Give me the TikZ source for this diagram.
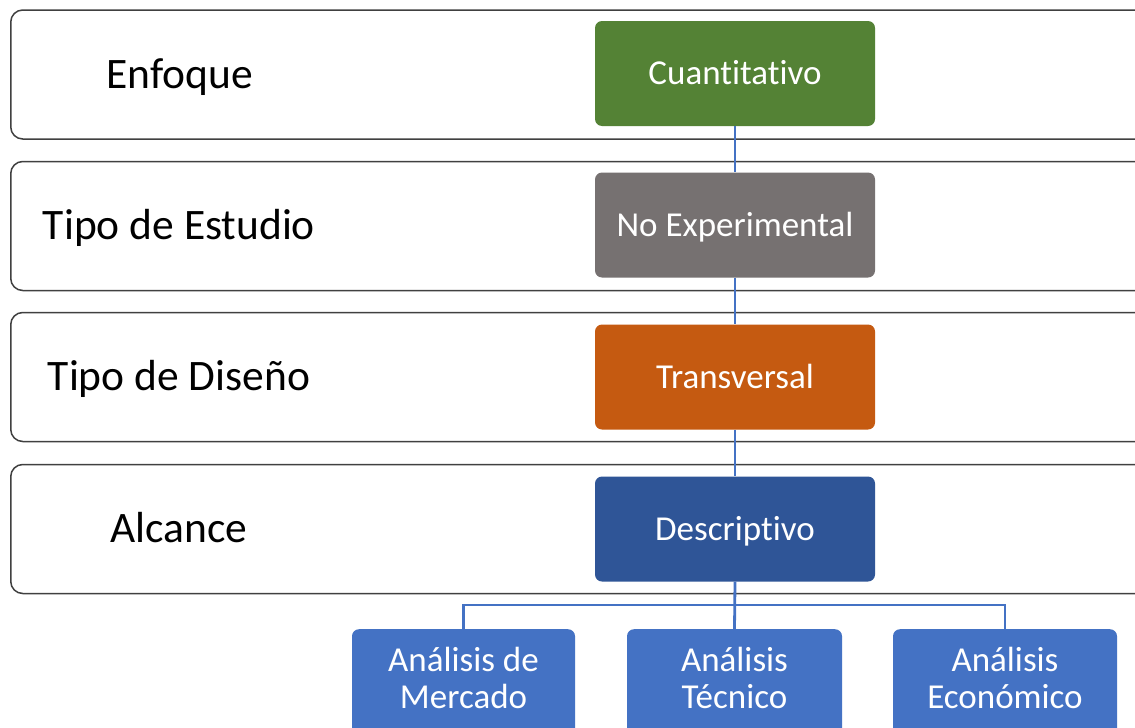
\documentclass[tikz,border=0pt]{standalone}
\usepackage{fontspec}
\setmainfont{Carlito}[Ligatures=NoCommon]
\definecolor{cgreen}{HTML}{548235}
\definecolor{cgray}{HTML}{767171}
\definecolor{corange}{HTML}{C55A11}
\definecolor{cdblue}{HTML}{2F5597}
\definecolor{cblue}{HTML}{4472C4}
\definecolor{cborder}{HTML}{404040}
\begin{document}
\begin{tikzpicture}[x=1pt,y=-1pt,
  rowbox/.style={draw=cborder,line width=1.5pt,rounded corners=12pt,fill=white,
    minimum width=1150pt,minimum height=129pt,anchor=west,inner sep=0pt},
  rowlabel/.style={font=\fontsize{43.5}{50}\selectfont,text=black,inner sep=0pt,
    text height=28pt,text depth=0pt},
  cbox/.style={rounded corners=7pt,minimum width=280pt,minimum height=105pt,
    text=white,font=\fontsize{35}{40}\selectfont,inner sep=0pt,
    text height=22.5pt,text depth=0pt},
  subbox/.style={fill=cblue,rounded corners=7pt,anchor=north,minimum height=140pt,inner sep=0pt},
  subtext/.style={text=white,font=\fontsize{35}{37}\selectfont,align=center,inner sep=0pt},
  conn/.style={draw=cblue,line width=2.8pt}]
\useasboundingbox (0,0) rectangle (1135,728);
\fill[white] (0,0) rectangle (1135,728);
\begin{scope}
\clip (0,0) rectangle (1135,728);
% rows
\node[rowbox] (r1) at (10,74.5) {};
\node[rowbox] (r2) at (10,226) {};
\node[rowbox] (r3) at (10,377) {};
\node[rowbox] (r4) at (10,529) {};
\node[rowlabel] (l1) at (180,74) {Enfoque};
\node[rowlabel] (l2) at (179,225) {Tipo de Estudio};
\node[rowlabel] (l3) at (179,376) {Tipo de Diseño};
\node[rowlabel] (l4) at (179,528) {Alcance};
% coloured boxes
\node[cbox,fill=cgreen] (b1) at (735,73.5) {Cuantitativo};
\node[cbox,fill=cgray] (b2) at (735,225) {No Experimental};
\node[cbox,fill=corange] (b3) at (735,377) {Transversal};
\node[cbox,fill=cdblue] (b4) at (735,529) {Descriptivo};
% sub boxes
\node[subbox,minimum width=223pt] (m) at (463.5,629) {};
\node[subbox,minimum width=215pt] (t) at (734.5,629) {};
\node[subbox,minimum width=224pt] (e) at (1005,629) {};
\node[subtext] (mt) at (463.5,677.5) {Análisis de\\Mercado};
\node[subtext] (tt) at (734.5,677.5) {Análisis\\Técnico};
\node[subtext] (et) at (1005,677.5) {Análisis\\Económico};
% connectors
\draw[conn] (b1.south) -- (b2.north);
\draw[conn] (b2.south) -- (b3.north);
\draw[conn] (b3.south) -- (b4.north);
\draw[conn] (b4.south) -- (t.north);
\draw[conn] (m.north) -- ++(0,-24) -| (e.north);
\end{scope}
\end{tikzpicture}
\end{document}
